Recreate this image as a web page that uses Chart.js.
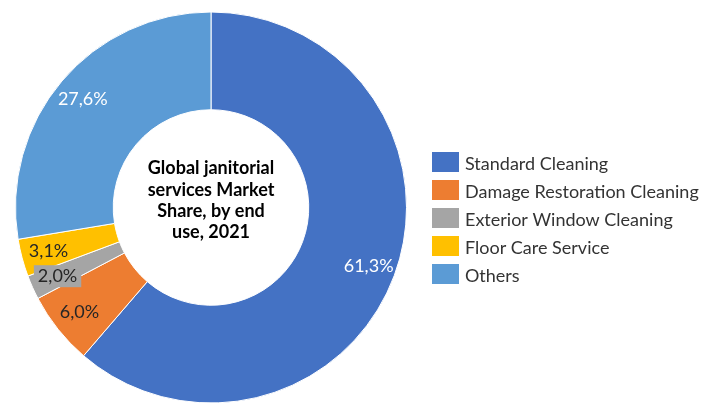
<!DOCTYPE html>
<html>
<head>
<meta charset="utf-8">
<script src="https://cdn.jsdelivr.net/npm/chart.js@4"></script>
<style>
  body { margin: 0; background: #fff; }
  canvas { display: block; }
</style>
</head>
<body>
<canvas id="myChart" width="701" height="404"></canvas>
<script>
const segments = [
  "Standard Cleaning",
  "Damage Restoration Cleaning",
  "Exterior Window Cleaning",
  "Floor Care Service",
  "Others",
];
const shares = [61.3, 6.0, 2.0, 3.1, 27.6];
const colors = ["#4472C4", "#ED7D31", "#A5A5A5", "#FFC000", "#5B9BD5"];
const labelColors = ["#ffffff", "#262626", "#262626", "#262626", "#ffffff"];
const centerLines = ["Global janitorial", "services Market", "Share, by end", "use, 2021"];

const fontName = "Lato, 'Noto Sans', sans-serif";

// percent labels sit a bit outside the middle of the ring
const sliceLabels = {
  id: "sliceLabels",
  afterDatasetsDraw(chart) {
    const ctx = chart.ctx;
    const meta = chart.getDatasetMeta(0);
    ctx.save();
    ctx.font = "18px " + fontName;
    ctx.textAlign = "center";
    ctx.textBaseline = "middle";
    meta.data.forEach((arc, i) => {
      const p = arc.getProps(["x", "y", "startAngle", "endAngle", "innerRadius", "outerRadius"], true);
      const mid = (p.startAngle + p.endAngle) / 2;
      const r = p.innerRadius + 0.72 * (p.outerRadius - p.innerRadius);
      const lx = p.x + Math.cos(mid) * r;
      const ly = p.y + Math.sin(mid) * r;
      const text = shares[i].toFixed(1).replace(".", ",") + "%";
      if (i == 2) {
        // small grey slice gets a grey box so the label stays readable
        const w = ctx.measureText(text).width + 8;
        ctx.fillStyle = colors[i];
        ctx.fillRect(lx - w / 2, ly - 11, w, 22);
      }
      ctx.fillStyle = labelColors[i];
      ctx.fillText(text, lx, ly);
    });
    ctx.restore();
  },
};

const centerText = {
  id: "centerText",
  afterDraw(chart) {
    const ctx = chart.ctx;
    const arc = chart.getDatasetMeta(0).data[0];
    const offsets = [-34, -12, 9, 30];
    ctx.save();
    ctx.font = "bold 18px " + fontName;
    ctx.fillStyle = "#000";
    ctx.textAlign = "center";
    ctx.textBaseline = "alphabetic";
    centerLines.forEach((line, i) => {
      ctx.fillText(line, arc.x, arc.y + offsets[i]);
    });
    ctx.restore();
  },
};

// legend to the right of the doughnut
const sideLegend = {
  id: "sideLegend",
  afterDraw(chart) {
    const ctx = chart.ctx;
    const left = chart.chartArea.right + 25;
    const top = 152;
    ctx.save();
    ctx.font = "18px " + fontName;
    ctx.textBaseline = "alphabetic";
    chart.data.labels.forEach((label, i) => {
      const y = top + i * 28;
      ctx.fillStyle = chart.data.datasets[0].backgroundColor[i];
      ctx.fillRect(left, y, 27, 20);
      ctx.fillStyle = "#333333";
      ctx.fillText(label, left + 33, y + 18);
    });
    ctx.restore();
  },
};

new Chart("myChart", {
  type: "doughnut",
  data: {
    labels: segments,
    datasets: [
      {
        data: shares,
        backgroundColor: colors,
        borderColor: "#ffffff",
        borderWidth: 1,
      },
    ],
  },
  options: {
    responsive: false,
    animation: false,
    cutout: "50%",
    layout: {
      padding: { left: 15, right: 294, top: 11, bottom: 0 },
    },
    plugins: {
      legend: { display: false },
      tooltip: { enabled: false },
    },
  },
  plugins: [sliceLabels, centerText, sideLegend],
});
</script>
</body>
</html>
